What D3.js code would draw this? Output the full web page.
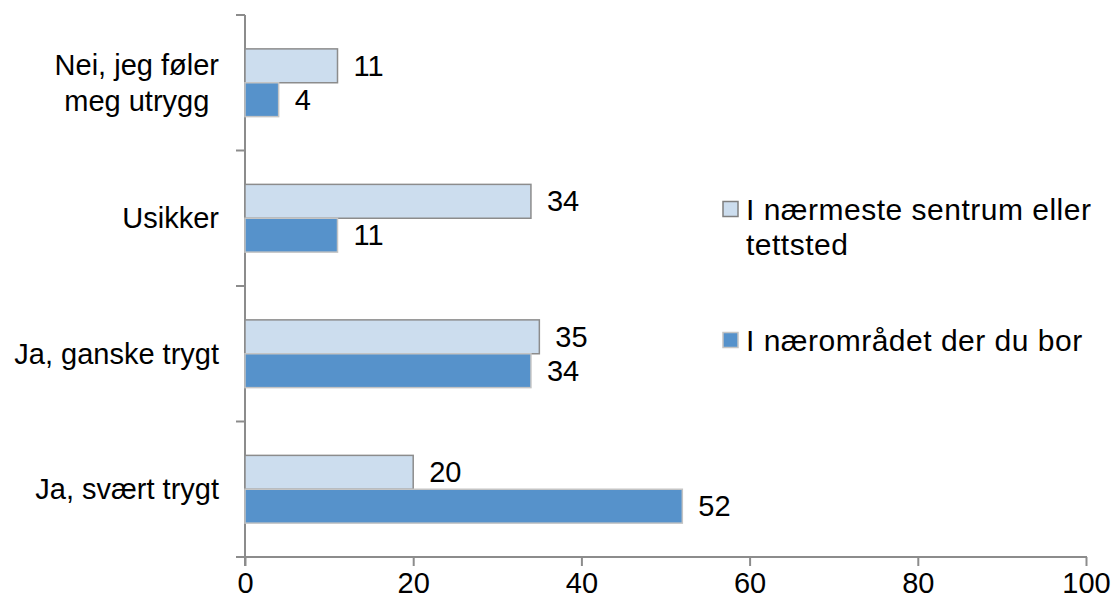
<!DOCTYPE html>
<html><head><meta charset="utf-8">
<script src="https://cdn.jsdelivr.net/npm/d3@7"></script>
<style>body{margin:0;background:#fff}svg{display:block}text{font-family:"Liberation Sans",Arial,sans-serif;fill:#000}</style>
</head><body><svg id="c" width="1118" height="604"></svg>
<script>
const categories = [["Nei, jeg føler","meg utrygg"],["Usikker"],["Ja, ganske trygt"],["Ja, svært trygt"]];
const legendLines = [["I nærmeste sentrum eller","tettsted"],["I nærområdet der du bor"]];
const sentrum = [11,34,35,20];
const naer = [4,11,34,52];
const xTicks = [0,20,40,60,80,100];

const svg = d3.select("#c");
const x = d3.scaleLinear().domain([0,100]).range([245,1086]);
const y = d3.scaleBand().domain(d3.range(categories.length)).range([15,557]);
const inner = d3.scaleBand().domain([0,1]).range([0,y.bandwidth()]).paddingOuter(1).paddingInner(0);
const fs = 29;
const fills = ["#CCDDEE","#5692CB"], strokes = ["#8C8C8C","#C4C4C4"];
const series = [sentrum, naer];

// axes
const xa = svg.append("g").attr("transform","translate(0,557)").call(d3.axisBottom(x).tickValues(xTicks).tickSize(9).tickSizeOuter(0).tickPadding(6));
xa.select(".domain").attr("stroke","#8C8C8C").attr("stroke-width",2).attr("d","M236,0H1087");
xa.selectAll(".tick line").attr("stroke","#8C8C8C").attr("stroke-width",2);
xa.selectAll(".tick text").attr("font-size",fs).attr("font-family","Liberation Sans, Arial").attr("fill","#000");
const ya = svg.append("g").attr("transform","translate(245,0)").call(d3.axisLeft(y).tickValues([]).tickSizeOuter(0));
ya.select(".domain").attr("stroke","#8C8C8C").attr("stroke-width",2).attr("d","M0,15V566");
const bounds = y.domain().map(i=>y(i));
ya.selectAll("line.t").data(bounds).enter().append("line").attr("class","t")
  .attr("x1",-9).attr("x2",0).attr("y1",d=>d).attr("y2",d=>d).attr("stroke","#8C8C8C").attr("stroke-width",2);

// bars
series.forEach((vals,si)=>{
  const g = svg.append("g");
  g.selectAll("rect").data(vals).enter().append("rect")
    .attr("x",x(0)).attr("y",(d,i)=>y(i)+inner(si)).attr("width",d=>x(d)-x(0)).attr("height",inner.bandwidth())
    .attr("fill",fills[si]).attr("stroke",strokes[si]).attr("stroke-width",1.5);
  g.selectAll("text").data(vals).enter().append("text")
    .attr("x",d=>x(d)+16).attr("y",(d,i)=>y(i)+inner(si)+inner.bandwidth()/2).attr("dy","0.35em")
    .attr("font-size",fs).text(d=>d);
});

// category labels
categories.forEach((lines,i)=>{
  const cy = y(i)+y.bandwidth()/2;
  const lh = 36;
  const t = svg.append("text").attr("font-size",fs).attr("text-anchor","middle");
  const spans = lines.map((l,j)=>t.append("tspan").attr("x",0).attr("y",cy+(j-(lines.length-1)/2)*lh).attr("dy","0.35em").text(l));
  const w = d3.max(spans, s=>s.node().getComputedTextLength());
  spans.forEach(s=>s.attr("x",219-w/2));
});

// legend
const legY = [209,340];
legendLines.forEach((lines,i)=>{
  svg.append("rect").attr("x",723).attr("y",legY[i]-7.5).attr("width",15).attr("height",15).attr("fill",fills[i]).attr("stroke",i?"#C4C4C4":"#7F7F7F").attr("stroke-width",1.5);
  const t = svg.append("text").attr("font-size",30).attr("letter-spacing","0.5px");
  lines.forEach((l,j)=>t.append("tspan").attr("x",746).attr("y",legY[i]+j*35).attr("dy","0.35em").text(l));
});
</script></body></html>
